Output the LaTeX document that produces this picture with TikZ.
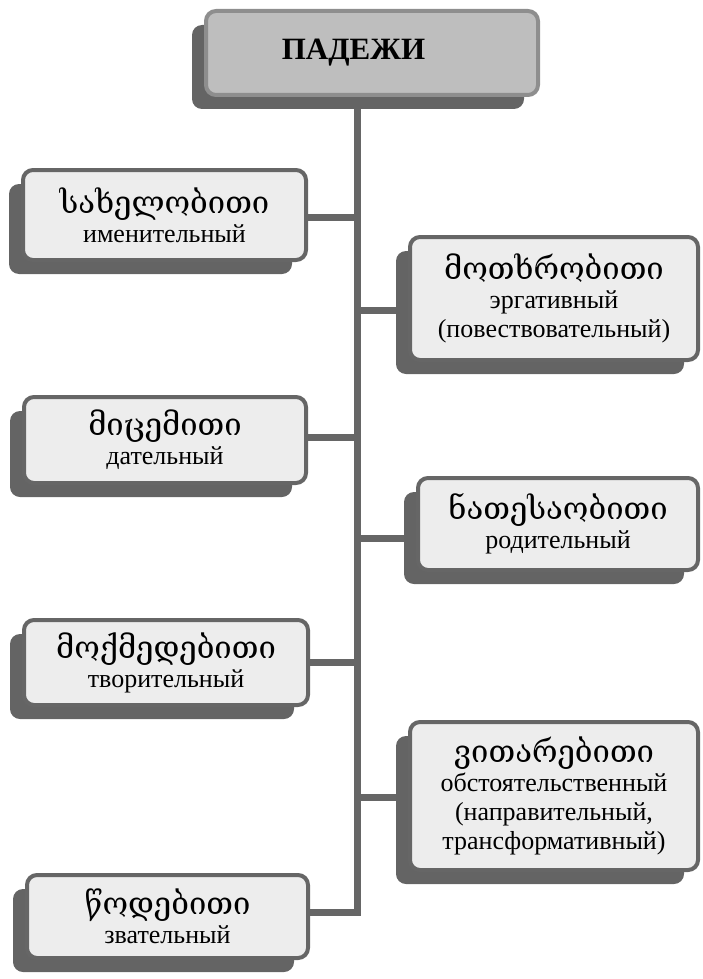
\documentclass[tikz,border=0pt]{standalone}
\usepackage{fontspec}
\setmainfont{Liberation Serif}
\newfontfamily\geofont{DejaVu Serif}
\usetikzlibrary{shadows,backgrounds}
\definecolor{boxfill}{HTML}{EDEDED}
\definecolor{boxline}{HTML}{666666}
\definecolor{shade}{HTML}{646464}
\definecolor{headfill}{HTML}{BEBEBE}
\definecolor{headline}{HTML}{8E8E8E}
\newcommand{\geo}[1]{{\geofont\fontsize{31}{32}\selectfont #1}}

\begin{document}
\begin{tikzpicture}[x=1pt, y=-1pt,
  casebox/.style={rectangle, rounded corners=10pt, draw=boxline, line width=4pt, fill=boxfill, inner sep=0pt, align=center, font=\fontsize{26}{29}\selectfont, general shadow={fill=shade, shadow xshift=-14pt, shadow yshift=-14pt}},
  headbox/.style={casebox, draw=headline, fill=headfill, font=\bfseries\fontsize{31}{34}\selectfont},
  link/.style={draw=boxline, line width=7pt}
]
  \useasboundingbox (0,0) rectangle (703,979);

  \node[headbox, minimum width=332pt, minimum height=84pt] (padezhi) at (372,53) {ПАДЕЖИ\hspace*{37pt}};

  \node[casebox, minimum width=283pt, minimum height=90pt] (nom) at (164.5,215) {\geo{სახელობითი}\\именительный};
  \node[casebox, minimum width=288pt, minimum height=123pt] (erg) at (554,298.5) {\geo{მოთხრობითი}\\эргативный\\(повествовательный)};
  \node[casebox, minimum width=282pt, minimum height=86pt] (dat) at (165,440) {\geo{მიცემითი}\\дательный};
  \node[casebox, minimum width=280pt, minimum height=92pt] (gen) at (558,524) {\geo{ნათესაობითი}\\родительный};
  \node[casebox, minimum width=284pt, minimum height=85pt] (instr) at (166,662.5) {\geo{მოქმედებითი}\\творительный};
  \node[casebox, minimum width=288pt, minimum height=148pt] (adv) at (554,796) {\geo{ვითარებითი}\\обстоятельственный\\(направительный,\\трансформативный)};
  \node[casebox, minimum width=281pt, minimum height=83pt] (voc) at (167.5,916.5) {\geo{წოდებითი}\\звательный};

  \coordinate (j1) at (357,217);
  \coordinate (j2) at (357,310);
  \coordinate (j3) at (357,437);
  \coordinate (j4) at (357,538);
  \coordinate (j5) at (357,662);
  \coordinate (j6) at (357,797);
  \coordinate (j7) at (357,912);
  \coordinate (t0) at (padezhi.south -| j1);

  \begin{scope}[on background layer]
    \draw[link] (t0) -- (j7) -- (voc.east |- j7);
    \draw[link] (nom.east |- j1) -- (j1);
    \draw[link] (j2) -- (erg.west |- j2);
    \draw[link] (dat.east |- j3) -- (j3);
    \draw[link] (j4) -- (gen.west |- j4);
    \draw[link] (instr.east |- j5) -- (j5);
    \draw[link] (j6) -- (adv.west |- j6);
  \end{scope}
\end{tikzpicture}
\end{document}
